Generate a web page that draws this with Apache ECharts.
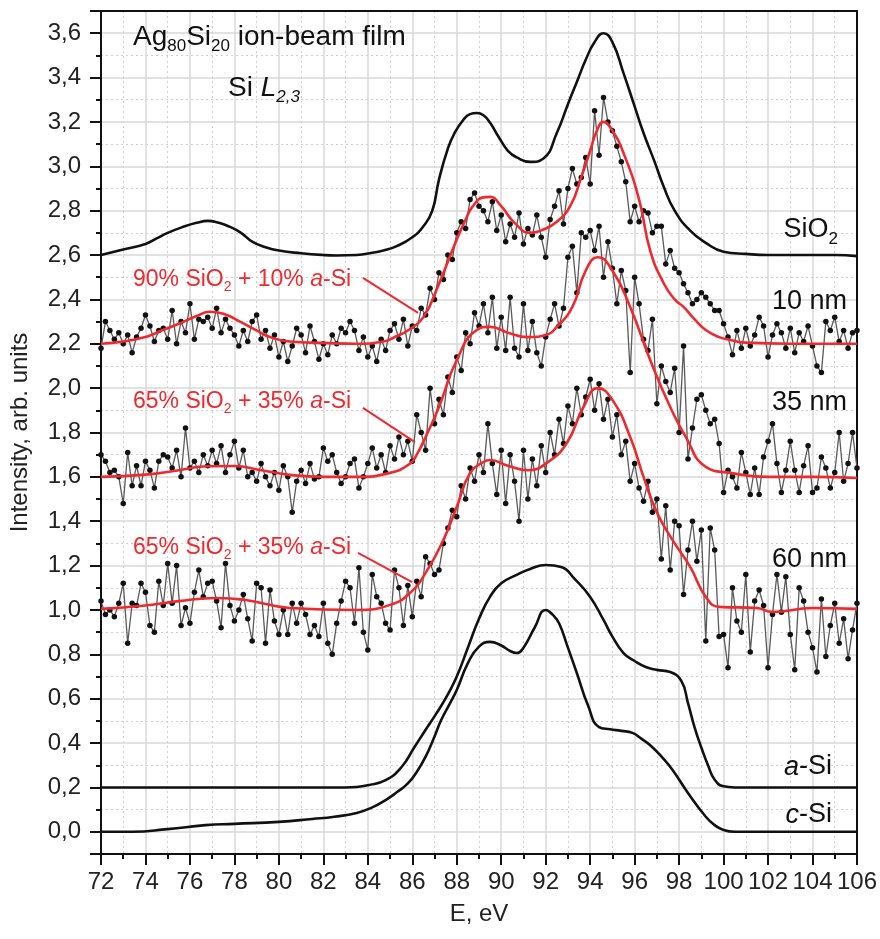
<!DOCTYPE html>
<html>
<head>
<meta charset="utf-8"/>
<title>Ag80Si20 ion-beam film, Si L2,3</title>
<script src="https://cdn.jsdelivr.net/npm/echarts@6.0.0/dist/echarts.min.js"></script>
<style>
  html, body { margin: 0; padding: 0; background: #fff; }
  #chart { width: 880px; height: 939px; }
</style>
</head>
<body>
<div id="chart"></div>
<script>
// reference spectra (black)
var sio2E = [72, 73, 74, 74.5, 75, 75.7, 76.3, 76.8, 77.3, 77.8, 78.3, 78.8, 79.4, 80, 81, 82, 82.6, 83.5, 84.2, 84.7,
  85.3, 86, 86.5, 86.9, 87.2, 87.6, 87.9, 88.3, 88.6, 88.9, 89.2, 89.5, 89.9, 90.3, 90.7, 91.3, 91.9, 92.5, 93, 93.4,
  93.8, 94.2, 94.6, 95, 95.5, 96, 96.4, 96.9, 97.3, 97.8, 98.5, 99.2, 100, 101, 102, 103, 104, 105, 106];
var sio2V = [2.60, 2.625, 2.65, 2.675, 2.70, 2.727, 2.745, 2.754, 2.745, 2.727, 2.70, 2.66, 2.635, 2.62, 2.608, 2.60, 2.598, 2.60, 2.61, 2.62,
  2.64, 2.68, 2.73, 2.80, 2.94, 3.08, 3.15, 3.21, 3.235, 3.24, 3.23, 3.196, 3.13, 3.07, 3.04, 3.02, 3.035, 3.15, 3.28, 3.38,
  3.48, 3.56, 3.60, 3.56, 3.42, 3.27, 3.15, 3.02, 2.91, 2.80, 2.71, 2.655, 2.615, 2.605, 2.60, 2.60, 2.60, 2.60, 2.595];

var aSiE = [72, 80, 83, 83.5, 84, 84.8, 85.5, 86.1, 86.6, 87.1, 87.6, 88.0, 88.5, 89.0, 89.5, 90.0, 90.7, 91.3, 92.0, 92.7,
  93.3, 94.0, 94.6, 95.0, 95.5, 96.0, 96.5, 97.0, 97.6, 98.1, 98.4, 98.7, 99.0, 99.3, 99.6, 100.0, 100.5, 106];
var aSiV = [0.2, 0.2, 0.2, 0.202, 0.21, 0.233, 0.29, 0.382, 0.46, 0.536, 0.62, 0.70, 0.83, 0.96, 1.06, 1.12, 1.158, 1.185, 1.203, 1.194,
  1.14, 1.059, 0.955, 0.88, 0.806, 0.77, 0.743, 0.73, 0.72, 0.68, 0.58, 0.47, 0.38, 0.30, 0.235, 0.205, 0.2, 0.2];

var cSiE = [72, 73.4, 75, 76.7, 78, 80, 81.5, 82.5, 83.5, 84.2, 84.8, 85.3, 85.8, 86.2, 86.6, 87.0, 87.3, 87.7, 88.0, 88.5,
  89.0, 89.5, 90.0, 90.4, 90.7, 91.0, 91.5, 92.0, 92.3, 92.6, 93.0, 93.4, 93.9, 94.4, 94.9, 95.4, 95.9, 96.3, 96.7, 97.2,
  97.7, 98.4, 99.2, 99.6, 100.0, 100.5, 106];
var cSiV = [0, 0, 0.012, 0.03, 0.036, 0.045, 0.058, 0.068, 0.085, 0.11, 0.143, 0.178, 0.218, 0.27, 0.339, 0.43, 0.504, 0.58, 0.639, 0.76,
  0.835, 0.856, 0.84, 0.815, 0.806, 0.83, 0.92, 1.0, 0.98, 0.94, 0.83, 0.716, 0.57, 0.472, 0.462, 0.455, 0.446, 0.42, 0.39, 0.34,
  0.28, 0.175, 0.068, 0.03, 0.008, 0, 0];

// fitted mixtures (red)
var fit10E = [72, 73, 74, 74.5, 75.5, 76.3, 76.9, 77.5, 78.25, 79, 79.6, 80.5, 82, 83.5, 84.7, 85.3, 85.8, 86.5, 87.2, 87.6,
  88, 88.4, 88.7, 89.2, 89.5, 90, 90.6, 91.3, 91.9, 92.5, 93.1, 93.6, 94, 94.3, 94.6, 95, 95.5, 96.2, 96.7, 97.3,
  97.8, 98.2, 98.7, 99.2, 99.8, 100.3, 101, 103, 106];
var fit10V = [2.20, 2.21, 2.23, 2.25, 2.29, 2.325, 2.344, 2.335, 2.30, 2.26, 2.23, 2.21, 2.204, 2.20, 2.21, 2.235, 2.26, 2.32, 2.47, 2.57,
  2.67, 2.76, 2.817, 2.86, 2.862, 2.82, 2.745, 2.70, 2.715, 2.75, 2.82, 2.95, 3.07, 3.16, 3.20, 3.16, 3.06, 2.85, 2.62, 2.474,
  2.40, 2.366, 2.31, 2.262, 2.23, 2.217, 2.205, 2.20, 2.20];

var fit35E = [72, 74, 75.5, 76.8, 78, 79.2, 80.5, 82, 83.5, 85, 85.9, 86.2, 86.6, 87.2, 88, 88.9, 89.5, 90.3, 91.2, 92,
  92.5, 93.2, 93.8, 94.35, 95, 95.8, 96.7, 97.6, 98.3, 99.2, 100.3, 102, 104, 106];
var fit35V = [1.60, 1.61, 1.63, 1.648, 1.649, 1.63, 1.609, 1.60, 1.60, 1.618, 1.66, 1.70, 1.78, 1.915, 2.127, 2.262, 2.276, 2.25, 2.23, 2.24,
  2.276, 2.366, 2.53, 2.59, 2.53, 2.366, 2.127, 1.915, 1.78, 1.645, 1.618, 1.60, 1.60, 1.595];

var fit60E = [72, 74, 75.5, 77.2, 78.5, 80.5, 83.5, 85, 85.9, 86.6, 87.4, 88, 88.6, 89.2, 89.5, 90.3, 91.2, 92.05, 92.95, 93.7,
  94.35, 95, 95.8, 96.4, 97, 97.7, 98.5, 99.2, 99.8, 101.5, 102.2, 104, 106];
var fit60V = [1.005, 1.02, 1.04, 1.054, 1.045, 1.009, 1.0, 1.023, 1.077, 1.167, 1.316, 1.465, 1.618, 1.667, 1.676, 1.65, 1.63, 1.663, 1.753, 1.915,
  2.0, 1.947, 1.78, 1.60, 1.44, 1.316, 1.194, 1.059, 1.014, 1.009, 0.991, 1.009, 1.005];

// measured films (grey line + dots), one point every 0.2 eV
var expEnergy = [
  72.0, 72.2, 72.4, 72.6, 72.8, 73.0, 73.2, 73.4, 73.6, 73.8,
  74.0, 74.2, 74.4, 74.6, 74.8, 75.0, 75.2, 75.4, 75.6, 75.8,
  76.0, 76.2, 76.4, 76.6, 76.8, 77.0, 77.2, 77.4, 77.6, 77.8,
  78.0, 78.2, 78.4, 78.6, 78.8, 79.0, 79.2, 79.4, 79.6, 79.8,
  80.0, 80.2, 80.4, 80.6, 80.8, 81.0, 81.2, 81.4, 81.6, 81.8,
  82.0, 82.2, 82.4, 82.6, 82.8, 83.0, 83.2, 83.4, 83.6, 83.8,
  84.0, 84.2, 84.4, 84.6, 84.8, 85.0, 85.2, 85.4, 85.6, 85.8,
  86.0, 86.2, 86.4, 86.6, 86.8, 87.0, 87.2, 87.4, 87.6, 87.8,
  88.0, 88.2, 88.4, 88.6, 88.8, 89.0, 89.2, 89.4, 89.6, 89.8,
  90.0, 90.2, 90.4, 90.6, 90.8, 91.0, 91.2, 91.4, 91.6, 91.8,
  92.0, 92.2, 92.4, 92.6, 92.8, 93.0, 93.2, 93.4, 93.6, 93.8,
  94.0, 94.2, 94.4, 94.6, 94.8, 95.0, 95.2, 95.4, 95.6, 95.8,
  96.0, 96.2, 96.4, 96.6, 96.8, 97.0, 97.2, 97.4, 97.6, 97.8,
  98.0, 98.2, 98.4, 98.6, 98.8, 99.0, 99.2, 99.4, 99.6, 99.8,
  100.0, 100.2, 100.4, 100.6, 100.8, 101.0, 101.2, 101.4, 101.6, 101.8,
  102.0, 102.2, 102.4, 102.6, 102.8, 103.0, 103.2, 103.4, 103.6, 103.8,
  104.0, 104.2, 104.4, 104.6, 104.8, 105.0, 105.2, 105.4, 105.6, 105.8,
  106.0];

var film10 = [
  2.18, 2.30, 2.26, 2.22, 2.25, 2.20, 2.24, 2.16, 2.23, 2.27,
  2.33, 2.28, 2.21, 2.26, 2.27, 2.22, 2.35, 2.20, 2.30, 2.25,
  2.38, 2.22, 2.31, 2.30, 2.32, 2.27, 2.36, 2.25, 2.31, 2.27,
  2.24, 2.19, 2.26, 2.21, 2.30, 2.33, 2.22, 2.26, 2.18, 2.24,
  2.14, 2.21, 2.12, 2.19, 2.27, 2.24, 2.16, 2.28, 2.21, 2.13,
  2.20, 2.15, 2.24, 2.20, 2.27, 2.25, 2.30, 2.26, 2.17, 2.23,
  2.14, 2.19, 2.12, 2.22, 2.17, 2.26, 2.29, 2.22, 2.31, 2.19,
  2.28, 2.26, 2.36, 2.33, 2.45, 2.40, 2.52, 2.49, 2.60, 2.58,
  2.70, 2.75, 2.72, 2.85, 2.88, 2.82, 2.80, 2.75, 2.84, 2.71,
  2.78, 2.66, 2.74, 2.68, 2.79, 2.65, 2.72, 2.69, 2.78, 2.68,
  2.59, 2.76, 2.82, 2.89, 2.74, 2.90, 2.99, 2.92, 2.95, 3.04,
  2.92, 3.25, 3.05, 3.31, 3.20, 3.16, 3.09, 3.02, 2.93, 2.75,
  2.82, 2.75, 2.80, 2.79, 2.70, 2.73, 2.73, 2.56, 2.62, 2.54,
  2.52, 2.47, 2.43, 2.38, 2.40, 2.43, 2.41, 2.38, 2.35, 2.35,
  2.29, 2.23, 2.15, 2.26, 2.18, 2.27, 2.19, 2.24, 2.32, 2.28,
  2.14, 2.24, 2.29, 2.25, 2.18, 2.27, 2.16, 2.25, 2.21, 2.28,
  2.19, 2.10, 2.07, 2.30, 2.26, 2.32, 2.21, 2.26, 2.18, 2.25,
  2.26];

var film35 = [
  1.70, 1.67, 1.62, 1.63, 1.60, 1.48, 1.71, 1.56, 1.65, 1.56,
  1.67, 1.63, 1.55, 1.67, 1.70, 1.69, 1.64, 1.72, 1.60, 1.82,
  1.64, 1.67, 1.62, 1.70, 1.65, 1.72, 1.66, 1.74, 1.62, 1.70,
  1.76, 1.64, 1.72, 1.60, 1.62, 1.58, 1.66, 1.60, 1.56, 1.62,
  1.54, 1.65, 1.60, 1.44, 1.58, 1.63, 1.57, 1.66, 1.59, 1.60,
  1.73, 1.67, 1.70, 1.62, 1.57, 1.60, 1.66, 1.68, 1.55, 1.60,
  1.66, 1.73, 1.64, 1.70, 1.62, 1.74, 1.68, 1.78, 1.70, 1.76,
  1.67, 1.88, 1.80, 1.72, 2.00, 1.84, 1.95, 1.88, 2.05, 1.98,
  2.14, 2.08, 2.25, 2.20, 2.34, 2.28, 2.38, 2.25, 2.41, 2.18,
  2.32, 2.17, 2.41, 2.18, 2.14, 2.38, 2.17, 2.30, 2.16, 2.10,
  2.23, 2.31, 2.38, 2.28, 2.36, 2.59, 2.64, 2.43, 2.70, 2.68,
  2.71, 2.62, 2.73, 2.50, 2.66, 2.54, 2.38, 2.53, 2.44, 2.07,
  2.50, 2.38, 2.22, 2.17, 2.31, 1.93, 2.10, 2.03, 1.98, 2.09,
  1.80, 2.19, 1.68, 1.82, 1.95, 1.97, 1.90, 1.84, 1.86, 1.75,
  1.53, 1.63, 1.60, 1.55, 1.71, 1.62, 1.52, 1.64, 1.52, 1.69,
  1.76, 1.84, 1.66, 1.53, 1.63, 1.76, 1.63, 1.53, 1.65, 1.74,
  1.53, 1.55, 1.69, 1.64, 1.55, 1.62, 1.80, 1.58, 1.66, 1.80,
  1.64];

var film60 = [
  1.04, 0.98, 1.00, 0.97, 1.03, 1.12, 0.85, 1.03, 1.02, 1.12,
  1.08, 0.93, 0.90, 1.13, 1.02, 1.21, 1.03, 1.20, 0.93, 1.01,
  0.94, 1.08, 1.18, 1.06, 1.12, 1.13, 1.04, 0.92, 1.21, 1.02,
  0.95, 1.00, 1.07, 0.96, 0.86, 1.12, 1.10, 0.85, 1.09, 0.95,
  0.89, 1.00, 0.89, 1.03, 0.94, 1.03, 0.98, 0.89, 0.93, 0.88,
  1.03, 0.85, 0.80, 0.94, 1.04, 1.13, 1.10, 0.94, 1.19, 0.90,
  0.82, 1.16, 1.06, 1.03, 0.94, 0.91, 1.18, 1.10, 0.93, 1.11,
  0.97, 1.13, 1.06, 1.24, 1.21, 1.16, 1.18, 1.30, 1.37, 1.45,
  1.42, 1.56, 1.50, 1.64, 1.58, 1.70, 1.62, 1.84, 1.66, 1.52,
  1.72, 1.48, 1.70, 1.58, 1.40, 1.72, 1.50, 1.68, 1.56, 1.74,
  1.62, 1.80, 1.70, 1.86, 1.75, 1.92, 1.84, 2.00, 1.88, 1.96,
  2.04, 1.90, 2.02, 1.86, 1.95, 1.78, 1.88, 1.70, 1.76, 1.58,
  1.66, 1.55, 1.49, 1.58, 1.44, 1.50, 1.23, 1.47, 1.18, 1.40,
  1.38, 1.07, 1.27, 1.40, 1.22, 1.36, 0.86, 1.37, 1.27, 0.88,
  0.89, 0.74, 1.10, 0.95, 0.90, 1.16, 0.81, 1.04, 1.09, 1.02,
  0.74, 0.98, 1.16, 0.99, 1.15, 0.89, 0.73, 1.10, 1.04, 0.90,
  0.83, 0.72, 1.05, 0.79, 0.93, 1.03, 0.85, 0.96, 0.78, 0.91,
  1.03];

// arrows from the red captions to the fitted curves [E, intensity]
var arrow10 = [[83.78, 2.497], [86.26, 2.339]];
var arrow35 = [[83.78, 1.911], [86.12, 1.757]];
var arrow60 = [[83.56, 1.257], [85.99, 1.126]];

var xTicks = { min: 72, max: 106, step: 2 };
var yTicks = { min: -0.1, max: 3.7, step: 0.2 };

var FONT = "'Liberation Sans', Arial, Helvetica, sans-serif";
var RED = '#ee2a2f';

function pairs(xs, ys) {
  return xs.map(function (x, i) { return [x, ys[i]]; });
}

function refLine(name, xs, ys, color, width) {
  return {
    name: name, type: 'line', data: pairs(xs, ys),
    smooth: 0.5, showSymbol: false, clip: false,
    lineStyle: { color: color, width: width }, z: 3
  };
}

function filmLine(name, ys) {
  return {
    name: name, type: 'line', data: pairs(expEnergy, ys),
    symbol: 'circle', symbolSize: 5.5, showAllSymbol: true,
    itemStyle: { color: '#111' },
    lineStyle: { color: '#5a5a5a', width: 1.3 }, z: 2
  };
}

function fitLine(name, xs, ys, arrow) {
  var s = refLine(name, xs, ys, RED, 2.6);
  s.z = 4;
  s.markLine = {
    silent: true, symbol: ['none', 'arrow'], symbolSize: [0, 18],
    label: { show: false },
    lineStyle: { color: RED, width: 2, type: 'solid' },
    data: [[{ coord: arrow[0] }, { coord: arrow[1] }]]
  };
  return s;
}

// rich styles: normal text hangs from the top of the line box, subscripts sit on its bottom
function richSet(size, subSize, boxH, color) {
  var base = { fontSize: size, lineHeight: boxH, verticalAlign: 'top', fontFamily: FONT, fill: color };
  var sub = { fontSize: subSize, lineHeight: boxH, verticalAlign: 'bottom', fontFamily: FONT, fill: color };
  return {
    m: base,
    i: Object.assign({}, base, { fontStyle: 'italic' }),
    s: sub,
    si: Object.assign({}, sub, { fontStyle: 'italic' })
  };
}
var richSets = {
  28: richSet(28, 17, 32, '#111'),
  27: richSet(27, 17, 31, '#111'),
  23: richSet(23, 14, 26, RED)
};

function caption(x, cy, text, align, size) {
  var red = size === 23;
  return {
    type: 'text', x: x, y: cy - size / 2, z: 20, silent: true,
    style: {
      text: text, fill: red ? RED : '#111',
      font: size + 'px ' + FONT,
      textAlign: align, textVerticalAlign: 'top',
      rich: richSets[size]
    }
  };
}

var chart = echarts.init(document.getElementById('chart'), null, { renderer: 'canvas' });

var option = {
  animation: false,
  backgroundColor: '#fff',
  grid: { left: 101, right: 23, top: 11, bottom: 85 },
  xAxis: [{
    type: 'value', min: xTicks.min, max: xTicks.max, interval: xTicks.step,
    name: 'E, eV', nameLocation: 'middle', nameGap: 48,
    nameTextStyle: { fontFamily: FONT, fontSize: 24, color: '#222' },
    axisLine: { show: true, onZero: false, lineStyle: { color: '#111', width: 2 } },
    axisTick: { show: true, length: 11, lineStyle: { color: '#111', width: 2 } },
    minorTick: { show: true, splitNumber: 2, length: 5, lineStyle: { color: '#111', width: 2 } },
    axisLabel: { fontFamily: FONT, fontSize: 24, color: '#222', margin: 16 },
    splitLine: { show: true, lineStyle: { color: '#d9d9d9', width: 1.5 } },
    minorSplitLine: { show: true, lineStyle: { color: '#cfcfcf', width: 1, type: [2, 3] } }
  }, {
    type: 'value', position: 'top', min: xTicks.min, max: xTicks.max,
    axisLine: { show: true, onZero: false, lineStyle: { color: '#111', width: 2 } },
    axisTick: { show: false }, axisLabel: { show: false }, splitLine: { show: false }
  }],
  yAxis: [{
    type: 'value', min: yTicks.min, max: yTicks.max,
    splitNumber: 19, minInterval: yTicks.step, maxInterval: yTicks.step,
    name: 'Intensity, arb. units', nameLocation: 'middle', nameGap: 69,
    nameTextStyle: { fontFamily: FONT, fontSize: 24, color: '#222' },
    axisLine: { show: true, onZero: false, lineStyle: { color: '#111', width: 2 } },
    axisTick: { show: true, length: 11, lineStyle: { color: '#111', width: 2 } },
    minorTick: { show: true, splitNumber: 2, length: 5, lineStyle: { color: '#111', width: 2 } },
    axisLabel: {
      fontFamily: FONT, fontSize: 24, color: '#222', margin: 20,
      formatter: function (v) {
        if (v < -0.05 || v > 3.65) return '';
        return v.toFixed(1).replace('.', ',');
      }
    },
    splitLine: { show: true, lineStyle: { color: '#d9d9d9', width: 1.5 } },
    minorSplitLine: { show: true, lineStyle: { color: '#cfcfcf', width: 1, type: [2, 3] } }
  }, {
    type: 'value', position: 'right', min: yTicks.min, max: yTicks.max,
    axisLine: { show: true, onZero: false, lineStyle: { color: '#111', width: 2 } },
    axisTick: { show: false }, axisLabel: { show: false }, splitLine: { show: false }
  }],
  series: [
    filmLine('10 nm', film10),
    filmLine('35 nm', film35),
    filmLine('60 nm', film60),
    refLine('SiO2', sio2E, sio2V, '#111', 2.6),
    refLine('a-Si', aSiE, aSiV, '#111', 2.6),
    refLine('c-Si', cSiE, cSiV, '#111', 2.6),
    fitLine('90% SiO2 + 10% a-Si', fit10E, fit10V, arrow10),
    fitLine('65% SiO2 + 35% a-Si (35 nm)', fit35E, fit35V, arrow35),
    fitLine('65% SiO2 + 35% a-Si (60 nm)', fit60E, fit60V, arrow60)
  ],
  graphic: [
    caption(133, 37, '{m|Ag}{s|80}{m|Si}{s|20}{m| ion-beam film}', 'left', 28),
    caption(228, 88, '{m|Si }{i|L}{si|2,3}', 'left', 28),
    caption(838, 230, '{m|SiO}{s|2}', 'right', 27),
    caption(847, 302, '{m|10 nm}', 'right', 27),
    caption(847, 403, '{m|35 nm}', 'right', 27),
    caption(847, 560, '{m|60 nm}', 'right', 27),
    caption(832, 767, '{i|a}{m|-Si}', 'right', 27),
    caption(832, 815, '{i|c}{m|-Si}', 'right', 27),
    caption(133, 280, '{m|90% SiO}{s|2}{m| + 10% }{i|a}{m|-Si}', 'left', 23),
    caption(133, 402, '{m|65% SiO}{s|2}{m| + 35% }{i|a}{m|-Si}', 'left', 23),
    caption(133, 548, '{m|65% SiO}{s|2}{m| + 35% }{i|a}{m|-Si}', 'left', 23)
  ]
};

chart.setOption(option);
</script>
</body>
</html>
